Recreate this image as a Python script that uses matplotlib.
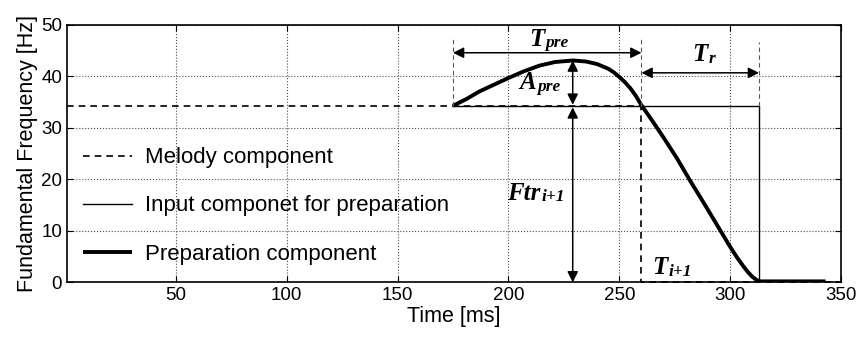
import numpy as np
import matplotlib
matplotlib.use("Agg")
from matplotlib import pyplot as plt

plt.rcParams['font.family'] = ['Liberation Sans', 'DejaVu Sans']

# melody component (dashed step)
melody_t = [1, 260, 260, 350]
melody_f = [34.3, 34.3, 0, 0]

# input component for preparation (thin line)
input_t = [175, 313, 313, 343]
input_f = [34.3, 34.3, 0, 0]

# preparation component (thick curve)
prep_t = [175, 181, 187, 194, 200, 207, 214, 221, 229, 235, 240, 245, 247.5,
          250, 252.5, 255, 257.5, 260, 265, 270, 276, 282, 288, 294, 300,
          303, 306, 308, 310, 311.5, 313, 343]
prep_f = [34.3, 35.6, 37.1, 38.5, 39.7, 41.0, 42.1, 42.8, 43.1, 42.9, 42.4,
          41.5, 40.8, 39.9, 38.9, 37.7, 36.2, 34.4, 31.3, 28.1, 24.1, 19.7,
          15.5, 11.2, 6.9, 4.9, 3.1, 2.0, 1.1, 0.6, 0.2, 0.2]

t_pre = (175, 260)
t_r = (260, 313)
t_peak = 229
f_peak = 43.1
f_base = 34.3

fig = plt.figure(figsize=(8.6, 3.37), dpi=100)
ax = fig.add_axes([0.078, 0.162, 0.900, 0.764])

ax.plot(melody_t, melody_f, 'k--', lw=1.2, dashes=(4, 3), label='Melody component', clip_on=False)
ax.plot(input_t, input_f, 'k-', lw=1.0, label='Input componet for preparation')
ax.plot(prep_t, prep_f, 'k-', lw=2.8, label='Preparation component',
        solid_capstyle='butt', solid_joinstyle='round')

# guide lines
for x0, top in [(175, 47.2), (260, 47.2), (313, 46.6)]:
    ax.plot([x0, x0], [f_base, top], color='0.35', ls='--', lw=0.8, dashes=(4, 3))

arr = dict(arrowstyle='<|-|>', color='k', lw=1.1, mutation_scale=16,
           shrinkA=0, shrinkB=0)
ax.annotate('', xy=(t_pre[0], 44.6), xytext=(t_pre[1], 44.6), arrowprops=arr)
ax.annotate('', xy=(t_r[0], 40.7), xytext=(t_r[1], 40.7), arrowprops=arr)
ax.annotate('', xy=(t_peak, f_peak), xytext=(t_peak, f_base + 0.2), arrowprops=arr)
ax.annotate('', xy=(t_peak, f_base - 0.3), xytext=(t_peak, 0), arrowprops=arr)


def sym(x, y, big, small):
    font = dict(family='Liberation Serif', weight='bold', style='italic')
    t = ax.text(x, y, big, fontsize=18, ha='left', va='baseline', **font)
    ax.annotate(small, xy=(1, 0), xycoords=t, xytext=(0.5, -0.5),
                textcoords='offset points', fontsize=12.5, ha='left',
                va='bottom', **font)


sym(209.5, 46.0, 'T', 'pre')
sym(283.0, 43.0, 'T', 'r')
sym(205.0, 37.5, 'A', 'pre')
sym(199.5, 16.1, 'Ftr', 'i+1')
sym(264.8, 1.6, 'T', 'i+1')

ax.set_xlim(1, 350)
ax.set_ylim(0, 50)
ax.set_xticks([50, 100, 150, 200, 250, 300, 350])
ax.set_yticks([0, 10, 20, 30, 40, 50])
ax.grid(True, ls=':', color='0.3', lw=0.8)
ax.tick_params(direction='in', top=True, right=True, labelsize=13.5, length=4)
for s in ax.spines.values():
    s.set_linewidth(1.2)
ax.set_xlabel('Time [ms]', fontsize=15.5, labelpad=1)
ax.set_ylabel('Fundamental Frequency [Hz]', fontsize=15.5, labelpad=2)

ax.legend(loc='upper left', bbox_to_anchor=(0.0, 0.585), frameon=False,
          fontsize=16, handlelength=2.2, handletextpad=0.6, labelspacing=1.22,
          borderaxespad=0.3)

fig.savefig('out.png', dpi=100)
